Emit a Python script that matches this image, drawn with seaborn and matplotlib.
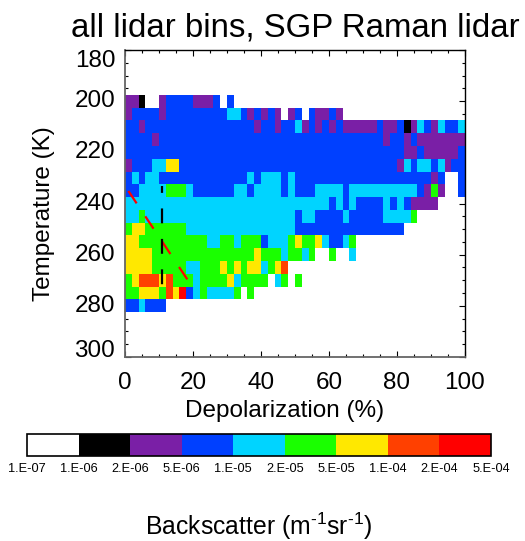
import numpy as np
import pandas as pd
import matplotlib
matplotlib.use('Agg')
import matplotlib.pyplot as plt
from matplotlib.colors import ListedColormap, BoundaryNorm
import seaborn as sns

sns.set_style('white')
plt.rcParams['font.family'] = ['Liberation Sans', 'DejaVu Sans']
plt.rcParams['text.color'] = 'black'
plt.rcParams['axes.labelcolor'] = 'black'
plt.rcParams['xtick.color'] = 'black'
plt.rcParams['ytick.color'] = 'black'
plt.rcParams['mathtext.fontset'] = 'custom'
plt.rcParams['mathtext.rm'] = 'Liberation Sans'
plt.rcParams['mathtext.default'] = 'regular'

# bin edges of the colour scale, lowest bin is white
levels = [1e-7, 1e-6, 2e-6, 5e-6, 1e-5, 2e-5, 5e-5, 1e-4, 2e-4, 5e-4]
level_labels = ['1.E-07', '1.E-06', '2.E-06', '5.E-06', '1.E-05',
                '2.E-05', '5.E-05', '1.E-04', '2.E-04', '5.E-04']
colors = ['#FFFFFF', '#000000', '#7A1FA6', '#0040FF', '#00D4FF',
          '#1AFF00', '#FFE800', '#FF4000', '#FF0000']
bin_codes = '.KPBCGYOR'

temperature = [200, 205, 210, 215, 220, 225, 230, 235, 240, 245, 250, 255, 260, 265, 270, 275, 280]
depol_edges = list(range(0, 102, 2))

# one letter per 2 % depolarization bin, '.' is empty
rows = [
    'PPK..PBBBBPPPB.B..................................',
    'PBBBBPBBBBBBBBBCCBPBPBP.PB.BPPBP..................',
    'BBPBBBBBBBBBBBBBBBBPBBPBBCPBPBPBPPPPPBPPBKPCBPCBBC',
    'BBBBPBBBBBBBBBBBBBBBBBBBBBBBBBBBBBBBBBPBBPBPPPPPPP',
    'BBBBBBBBBBBBBBBBBBBBBBBBBBBBBBBBBBBBBBBBBPPBPPPPPB',
    'PBBBCCYYBBBBBBBBBBBBBBBBBBBBBBBBBBBBBBBBPCBCCBCPBB',
    'BCBCCBBBBBBBBBBBBBCBCCCBCBBBBBBBBBBBBBBBBBBBBPB..B',
    'BBCCCCGGGCBBBBBBCCBCCCCBCBBBCCCCBCCCCCCCCCCBPGP..B',
    'CCCCCCCCCCCCCCCCCCCCCCCCCCCCCCBCBCBBBBCBCBPPPP....',
    'CCGCCCCCCCCCCCCCCCCCCCCCCBCCBBBBCBBBBBCCCCG.......',
    'GYYGGGGGGCCCCCCCCCCCCCCCCBBBBBBBBBBBBBBBB.........',
    'YYGGGGGGGGGGCCGGCGGGBCCCGYGGYCBBCG................',
    'YYYYGGGGGGGGGGGGGGGYGGGCGGCG..G..C................',
    'YYYYGGGGGCCGGGYGYGYYCGYO..........................',
    'GYOOOYOGGGCGGGGYCGGGG.CG.G........................',
    'GGYYYGOYRBCGCCCCG.G...............................',
    'BBCBBB............................................',
]

# dashed guide lines
red_depol = [1.0, 18.8]
red_temp = [235.1, 270.6]
black_depol = [11.0, 11.0]
black_temp = [233.1, 272.6]

x_major = [0, 20, 40, 60, 80, 100]
x_minor = [5, 10, 15, 25, 30, 35, 45, 50, 55, 65, 70, 75, 85, 90, 95]
y_major = [180, 200, 220, 240, 260, 280, 300]
y_minor = [185, 190, 195, 205, 210, 215, 225, 230, 235, 245, 250, 255, 265, 270, 275, 285, 290, 295]

# representative value of every bin, taken as the geometric middle of its edges
mids = [np.sqrt(levels[i] * levels[i + 1]) for i in range(len(colors))]
grid = [[mids[bin_codes.index(c)] if c != '.' else np.nan for c in r] for r in rows]
data = pd.DataFrame(grid, index=temperature, columns=depol_edges[:-1])


# heatmap axes run in cell numbers, so convert from data units
def x_pos(depol):
    return np.asarray(depol) / 2.0


def y_pos(temp):
    return (np.asarray(temp) - 197.5) / 5.0


W, H = 525, 541
fig = plt.figure(figsize=(W / 100, H / 100), dpi=100)
ax = fig.add_axes([125 / W, 1 - 357 / H, 340 / W, 307 / H])
cax = fig.add_axes([27 / W, 1 - 456 / H, 464 / W, 22 / H])

cmap = ListedColormap(colors)
norm = BoundaryNorm(levels, cmap.N)
sns.heatmap(data, ax=ax, cmap=cmap, norm=norm, cbar_ax=cax,
            cbar_kws={'orientation': 'horizontal', 'ticks': levels, 'spacing': 'uniform'})

ax.plot(x_pos(red_depol), y_pos(red_temp), color='#FF0000', lw=1.6,
        linestyle=(0, (6.7, 7.0)), dash_capstyle='butt', zorder=5)
ax.plot(x_pos(black_depol), y_pos(black_temp), color='black', lw=1.6,
        linestyle=(3.6, (6.7, 7.0)), dash_capstyle='butt', zorder=5)

ax.set_xlim(x_pos(0), x_pos(100))
ax.set_ylim(y_pos(300), y_pos(180))
ax.set_xticks(x_pos(x_major))
ax.set_xticklabels(x_major, rotation=0)
ax.set_xticks(x_pos(x_minor), minor=True)
ax.set_yticks(y_pos(y_major))
ax.set_yticklabels(y_major, rotation=0)
ax.set_yticks(y_pos(y_minor), minor=True)
ax.tick_params(which='major', direction='in', length=4.5, width=0.8, top=True, right=True,
               bottom=True, left=True, labelsize=17.5, colors='black', pad=7)
ax.tick_params(which='major', axis='x', pad=11)
ax.tick_params(which='minor', direction='in', length=2.2, width=0.8, top=True, right=True,
               bottom=True, left=True)
# end labels sit inside the axis range in the original
ylabels = ax.get_yticklabels()
ylabels[0].set_va('top')
ylabels[-1].set_va('baseline')
for name, s in ax.spines.items():
    s.set_visible(True)
    s.set_linewidth(1.3 if name in ('left', 'bottom') else 1.0)
    s.set_color('#666666' if name in ('left', 'bottom') else 'black')

fig.text(295 / W, 1 - 28 / H, 'all lidar bins, SGP Raman lidar', fontsize=23.8,
         ha='center', va='center')
fig.text(285 / W, 1 - 411 / H, 'Depolarization (%)', fontsize=17.5, ha='center', va='center')
fig.text(44 / W, 1 - 214 / H, 'Temperature (K)', fontsize=17.5, rotation=90, ha='center', va='center')
fig.text(259 / W, 1 - 526 / H, r'Backscatter (m$^{\text{-}1}$sr$^{\text{-}1}$)', fontsize=17.8,
         ha='center', va='center')

cbar = ax.collections[0].colorbar
cbar.set_ticklabels(level_labels)
cbar.ax.tick_params(length=0, labelsize=9.2, pad=5)
cbar.minorticks_off()
cbar.outline.set_linewidth(1.2)
cbar.outline.set_edgecolor('black')

fig.savefig('out.png', dpi=100)
